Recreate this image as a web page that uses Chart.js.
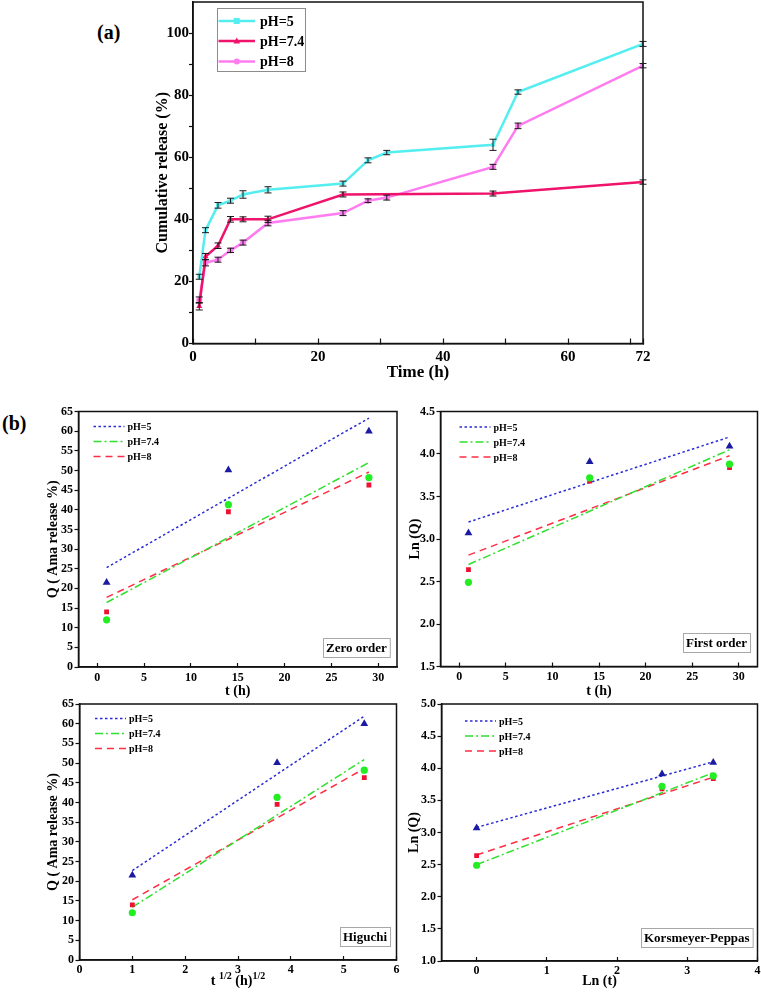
<!DOCTYPE html>
<html>
<head>
<meta charset="utf-8">
<script src="https://cdn.jsdelivr.net/npm/chart.js@4.4.1/dist/chart.umd.min.js"></script>
<style>
html, body { margin: 0; padding: 0; background: #fff; }
#fig { position: relative; width: 761px; height: 992px; overflow: hidden; background: #fff; }
#fig canvas { position: absolute; }
.tag { position: absolute; font-family: 'Liberation Serif', 'Times New Roman', serif; font-weight: bold; font-size: 20px; line-height: 20px; color: #000; }
</style>
</head>
<body>
<div id="fig">
  <div class="tag" style="left:97px;top:22px">(a)</div>
  <div class="tag" style="left:2px;top:413px">(b)</div>
  <canvas id="release"></canvas>
  <canvas id="zeroOrder"></canvas>
  <canvas id="firstOrder"></canvas>
  <canvas id="higuchi"></canvas>
  <canvas id="korsmeyer"></canvas>
</div>
<script>
// (a) cumulative release vs time
const timeH = [1, 2, 4, 6, 8, 12, 24, 28, 31, 48, 52, 72];
const releasePH5 = [21.5, 36.5, 44.5, 46, 48, 49.5, 51.5, 59, 61.5, 64, 81, 96.5];
const errPH5 = [0.8, 0.8, 0.9, 0.8, 1.2, 1.0, 0.8, 0.8, 0.7, 1.8, 0.7, 0.8];
const timePH74 = [1, 2, 4, 6, 8, 12, 24, 48, 72];
const releasePH74 = [12, 28, 31.5, 40, 40, 40, 48, 48.3, 52];
const errPH74 = [1.2, 1.0, 0.9, 0.9, 0.8, 1.0, 0.8, 0.8, 0.7];
const releasePH8 = [14, 26, 27, 30, 32.5, 38.8, 42, 46, 47, 56.9, 70.1, 89.5];
const errPH8 = [1.0, 1.0, 0.8, 0.7, 0.8, 0.9, 0.8, 0.6, 0.8, 0.8, 0.9, 0.7];
const xTicksA = [0, 10, 20, 30, 40, 50, 60, 70, 72];
const xLabelsA = [0, 20, 40, 60, 72];
const yTicksA = [0, 10, 20, 30, 40, 50, 60, 70, 80, 90, 100];
const yLabelsA = [0, 20, 40, 60, 80, 100];

// (b) kinetic model fits
const fitTimeH = [1, 14, 29];
const sqrtTimeH = [1, 3.74, 5.39];
const lnTimeH = [0, 2.64, 3.37];
const qPH5 = [21.5, 50.1, 60.0];
const qPH74 = [12.0, 41.3, 48.2];
const qPH8 = [14.0, 39.5, 46.3];
const lnQPH5 = [3.07, 3.91, 4.09];
const lnQPH74 = [2.49, 3.72, 3.88];
const lnQPH8 = [2.64, 3.68, 3.84];

const zeroFitX = [1, 29];
const zeroFitPH5 = [25.3, 63.3];
const zeroFitPH74 = [16.4, 52.0];
const zeroFitPH8 = [17.7, 49.6];
const firstFitPH5 = [3.20, 4.20];
const firstFitPH74 = [2.70, 4.05];
const firstFitPH8 = [2.81, 3.98];
const higuchiFitX = [1, 5.39];
const higuchiFitPH5 = [22.7, 61.9];
const higuchiFitPH74 = [13.4, 50.9];
const higuchiFitPH8 = [15.3, 48.6];
const kpFitX = [0, 3.37];
const kpFitPH5 = [3.08, 4.10];
const kpFitPH74 = [2.50, 3.93];
const kpFitPH8 = [2.65, 3.86];

const tTicks = [0, 5, 10, 15, 20, 25, 30];
const qTicks = [0, 5, 10, 15, 20, 25, 30, 35, 40, 45, 50, 55, 60, 65];
const lnQTicksFirst = [1.5, 2.0, 2.5, 3.0, 3.5, 4.0, 4.5];
const sqrtTTicks = [0, 1, 2, 3, 4, 5, 6];
const lnTTicks = [0, 1, 2, 3, 4];
const lnQTicksKP = [1.0, 1.5, 2.0, 2.5, 3.0, 3.5, 4.0, 4.5, 5.0];

const serif = "'Liberation Serif', 'Times New Roman', serif";
const bold = size => ({ family: serif, size: size, weight: 'bold' });
const pts = (xs, ys) => xs.map((x, i) => ({ x: x, y: ys[i] }));

function drawMark(ctx, style, x, y, r, color) {
    ctx.save();
    ctx.fillStyle = color;
    ctx.beginPath();
    if (style === 'rect') {
        ctx.rect(x - r, y - r, 2 * r, 2 * r);
    } else if (style === 'triangle') {
        ctx.moveTo(x, y - r * 1.2);
        ctx.lineTo(x + r * 1.1, y + r * 0.8);
        ctx.lineTo(x - r * 1.1, y + r * 0.8);
        ctx.closePath();
    } else {
        ctx.arc(x, y, r, 0, Math.PI * 2);
    }
    ctx.fill();
    ctx.restore();
}

// box around the plot area
const frameBox = {
    id: 'frameBox',
    afterDatasetsDraw(chart) {
        const { ctx, chartArea: a } = chart;
        ctx.save();
        ctx.strokeStyle = '#111';
        ctx.lineWidth = 1.5;
        ctx.strokeRect(a.left, a.top, a.right - a.left, a.bottom - a.top);
        ctx.restore();
    }
};

const errorBars = {
    id: 'errorBars',
    afterDatasetsDraw(chart) {
        const { ctx, scales: { x, y } } = chart;
        ctx.save();
        ctx.strokeStyle = '#1a1a1a';
        ctx.lineWidth = 1;
        chart.data.datasets.forEach(ds => {
            if (!ds.errors) return;
            ds.data.forEach((p, i) => {
                const e = ds.errors[i];
                const px = x.getPixelForValue(p.x);
                const lo = y.getPixelForValue(p.y - e), hi = y.getPixelForValue(p.y + e);
                ctx.beginPath();
                ctx.moveTo(px, lo); ctx.lineTo(px, hi);
                ctx.moveTo(px - 3.5, lo); ctx.lineTo(px + 3.5, lo);
                ctx.moveTo(px - 3.5, hi); ctx.lineTo(px + 3.5, hi);
                ctx.stroke();
            });
        });
        ctx.restore();
    }
};

// legend of panel (a): framed, line with marker
const boxKey = {
    id: 'boxKey',
    afterDraw(chart, args, o) {
        if (!o.rows) return;
        const { ctx, chartArea: a } = chart;
        const x0 = a.left + o.dx, y0 = a.top + o.dy;
        ctx.save();
        ctx.strokeStyle = '#8c8c8c';
        ctx.lineWidth = 1;
        ctx.strokeRect(x0 + 0.5, y0 + 0.5, o.w, o.h);
        ctx.font = 'bold ' + o.size + 'px ' + serif;
        ctx.textBaseline = 'middle';
        chart.data.datasets.forEach((d, i) => {
            const y = y0 + o.rows[i];
            ctx.strokeStyle = d.borderColor;
            ctx.lineWidth = d.borderWidth;
            ctx.beginPath();
            ctx.moveTo(x0 + o.line[0], y);
            ctx.lineTo(x0 + o.line[1], y);
            ctx.stroke();
            drawMark(ctx, d.pointStyle, x0 + (o.line[0] + o.line[1]) / 2, y, o.mark, d.borderColor);
            ctx.fillStyle = '#000';
            ctx.fillText(d.label, x0 + o.textX, y + 1);
        });
        ctx.restore();
    }
};

// legend of panel (b): dashed line samples
const lineKey = {
    id: 'lineKey',
    afterDraw(chart, args, o) {
        if (!o.rowH) return;
        const { ctx, chartArea: a } = chart;
        ctx.save();
        ctx.font = 'bold ' + o.size + 'px ' + serif;
        ctx.textBaseline = 'middle';
        chart.data.datasets.filter(d => d.showLine).forEach((d, i) => {
            const x = a.left + o.dx, y = a.top + o.dy + i * o.rowH;
            ctx.setLineDash(d.borderDash || []);
            ctx.strokeStyle = d.borderColor;
            ctx.lineWidth = d.borderWidth;
            ctx.beginPath();
            ctx.moveTo(x, y);
            ctx.lineTo(x + o.len, y);
            ctx.stroke();
            ctx.setLineDash([]);
            ctx.fillStyle = '#000';
            ctx.fillText(d.label, x + o.len + o.gap, y + 1);
        });
        ctx.restore();
    }
};

const cornerTag = {
    id: 'cornerTag',
    afterDraw(chart, args, o) {
        if (!o.text) return;
        const { ctx, chartArea: a } = chart;
        ctx.save();
        ctx.font = 'bold ' + o.size + 'px ' + serif;
        const w = ctx.measureText(o.text).width + 6, h = 19;
        const x = Math.round(a.right - o.right - w), y = Math.round(a.bottom - o.bottom - h);
        ctx.fillStyle = '#fff';
        ctx.fillRect(x, y, w, h);
        ctx.strokeStyle = '#a8a8a8';
        ctx.lineWidth = 1;
        ctx.strokeRect(x + 0.5, y + 0.5, w, h);
        ctx.fillStyle = '#000';
        ctx.textBaseline = 'middle';
        ctx.fillText(o.text, x + 3, y + h / 2 + 1);
        ctx.restore();
    }
};

// x title with superscripts (Higuchi)
const supTitle = {
    id: 'supTitle',
    afterDraw(chart, args, o) {
        if (!o.parts) return;
        const { ctx, chartArea: a } = chart;
        ctx.save();
        ctx.fillStyle = '#000';
        ctx.textBaseline = 'alphabetic';
        const widths = o.parts.map(p => {
            ctx.font = 'bold ' + (p.sup ? o.supSize : o.size) + 'px ' + serif;
            return ctx.measureText(p.text).width;
        });
        let x = (a.left + a.right) / 2 - widths.reduce((s, w) => s + w, 0) / 2;
        o.parts.forEach((p, i) => {
            ctx.font = 'bold ' + (p.sup ? o.supSize : o.size) + 'px ' + serif;
            ctx.fillText(p.text, x, a.bottom + o.dy - (p.sup ? o.raise : 0));
            x += widths[i];
        });
        ctx.restore();
    }
};

function makeChart(id, s, datasets, pluginOpts) {
    const el = document.getElementById(id);
    const [cx, cy, cw, ch] = s.canvas;
    el.width = cw; el.height = ch;
    el.style.left = cx + 'px'; el.style.top = cy + 'px';
    el.style.width = cw + 'px'; el.style.height = ch + 'px';
    const a = s.area;
    const yLeft = s.yTitleX - s.yTitleSize * 0.6;
    const xBottom = s.xTitleY + s.xTitleSize * 0.6;
    const xPad = s.xLabelY - a.b + s.tickIn - s.tickSize * 0.6;
    const yPad = a.l - s.tickOut - s.yLabelRight;
    return new Chart(el, {
        type: 'scatter',
        data: { datasets: datasets },
        plugins: [frameBox, errorBars, boxKey, lineKey, cornerTag, supTitle],
        options: {
            responsive: false,
            animation: false,
            events: [],
            layout: { padding: { left: yLeft - cx, right: cx + cw - a.r, top: a.t - cy, bottom: cy + ch - xBottom } },
            plugins: Object.assign({ legend: { display: false }, tooltip: { enabled: false } }, pluginOpts),
            scales: {
                x: {
                    type: 'linear', min: s.xMin, max: s.xMax,
                    afterBuildTicks: sc => { sc.ticks = s.xTicks.map(v => ({ value: v })); },
                    afterFit: sc => { sc.height = xBottom - a.b; },
                    ticks: {
                        autoSkip: false, maxRotation: 0, color: '#000', font: bold(s.tickSize), padding: xPad,
                        callback: v => s.xLabels.includes(v) ? s.xFmt(v) : ''
                    },
                    grid: { drawOnChartArea: false, tickLength: -s.tickIn, tickColor: '#111', tickWidth: 1.2 },
                    border: { display: true, color: '#111', width: 1.5 },
                    title: { display: !!s.xTitle, text: s.xTitle, color: '#000', font: bold(s.xTitleSize), padding: 0 }
                },
                y: {
                    type: 'linear', min: s.yMin, max: s.yMax,
                    afterBuildTicks: sc => { sc.ticks = s.yTicks.map(v => ({ value: v })); },
                    afterFit: sc => { sc.width = a.l - yLeft; },
                    ticks: {
                        autoSkip: false, color: '#000', font: bold(s.tickSize), padding: yPad,
                        callback: v => s.yLabels.includes(v) ? s.yFmt(v) : ''
                    },
                    grid: { drawOnChartArea: false, tickLength: s.tickOut, tickColor: '#111', tickWidth: 1.2 },
                    border: { display: true, color: '#111', width: 1.5 },
                    title: { display: true, text: s.yTitle, color: '#000', font: bold(s.yTitleSize), padding: 0 }
                }
            }
        }
    });
}

const int = v => String(v);
const one = v => v.toFixed(1);

// ---------- panel (a)
const curve = (label, xs, ys, errs, color, style, r) => ({
    label: label, data: pts(xs, ys), errors: errs, showLine: true,
    borderColor: color, backgroundColor: color, borderWidth: 2.5,
    pointStyle: style, pointRadius: r, pointBorderWidth: 0
});

makeChart('release', {
    canvas: [0, -20, 780, 420],
    area: { l: 193, t: 2, r: 643, b: 343.5 },
    xMin: 0, xMax: 72, yMin: 0, yMax: 110,
    xTicks: xTicksA, xLabels: xLabelsA, yTicks: yTicksA, yLabels: yLabelsA,
    xFmt: int, yFmt: int,
    tickSize: 15, tickIn: 5, tickOut: 4, xLabelY: 357, yLabelRight: 189,
    xTitle: 'Time (h)', xTitleSize: 17, xTitleY: 373,
    yTitle: 'Cumulative release (%)', yTitleSize: 16, yTitleX: 163
}, [
    curve('pH=5', timeH, releasePH5, errPH5, '#55eef0', 'rect', 2.8),
    curve('pH=7.4', timePH74, releasePH74, errPH74, '#f0136c', 'triangle', 3.5),
    curve('pH=8', timeH, releasePH8, errPH8, '#ff7cf0', 'circle', 3)
], {
    boxKey: { dx: 24, dy: 6, w: 88, h: 63, rows: [13, 33, 53.5], line: [1.5, 38], textX: 43, mark: 3, size: 14 }
});

// ---------- panel (b)
const fitStyle = {
    ph5: { color: '#2b2bd4', dash: [2.5, 2.5], mark: 'triangle', markColor: '#1a1aa2', r: 4.5 },
    ph74: { color: '#2fe02f', dash: [8, 3, 2, 3], mark: 'circle', markColor: '#22ee22', r: 3.6 },
    ph8: { color: '#ff2d45', dash: [7, 5], mark: 'rect', markColor: '#ee1133', r: 3.4 }
};
const fitLine = (label, xs, ys, st) => ({
    label: label, data: pts(xs, ys), showLine: true, order: 2,
    borderColor: st.color, borderDash: st.dash, borderWidth: 1.5, pointRadius: 0
});
const dots = (xs, ys, st) => ({
    label: '', data: pts(xs, ys), order: 1,
    pointStyle: st.mark, pointRadius: st.r, pointBorderWidth: 0, backgroundColor: st.markColor
});
const modelSets = (fx, f5, f74, f8, xs, y5, y74, y8) => [
    fitLine('pH=5', fx, f5, fitStyle.ph5),
    fitLine('pH=7.4', fx, f74, fitStyle.ph74),
    fitLine('pH=8', fx, f8, fitStyle.ph8),
    dots(xs, y5, fitStyle.ph5),
    dots(xs, y74, fitStyle.ph74),
    dots(xs, y8, fitStyle.ph8)
];

const small = { tickSize: 12, tickIn: 4, tickOut: 4, xTitleSize: 14, yTitleSize: 14 };

makeChart('zeroOrder', Object.assign({
    canvas: [0, 392, 420, 310],
    area: { l: 78.5, t: 411.5, r: 397, b: 667 },
    xMin: -2, xMax: 32, yMin: 0, yMax: 65,
    xTicks: tTicks, xLabels: tTicks, yTicks: qTicks, yLabels: qTicks, xFmt: int, yFmt: int,
    xLabelY: 678, yLabelRight: 73,
    xTitle: 't (h)', xTitleY: 691, yTitle: 'Q ( Ama release %)', yTitleX: 53
}, small), modelSets(zeroFitX, zeroFitPH5, zeroFitPH74, zeroFitPH8, fitTimeH, qPH5, qPH74, qPH8), {
    lineKey: { dx: 15, dy: 15, rowH: 15, len: 31, gap: 3, size: 10 },
    cornerTag: { text: 'Zero order', size: 13, right: 7, bottom: 10.5 }
});

makeChart('firstOrder', Object.assign({
    canvas: [400, 392, 380, 310],
    area: { l: 440.5, t: 411.5, r: 757.5, b: 666.5 },
    xMin: -2, xMax: 32, yMin: 1.5, yMax: 4.5,
    xTicks: tTicks, xLabels: tTicks, yTicks: lnQTicksFirst, yLabels: lnQTicksFirst, xFmt: int, yFmt: one,
    xLabelY: 677, yLabelRight: 435,
    xTitle: 't (h)', xTitleY: 691, yTitle: 'Ln (Q)', yTitleX: 415
}, small), modelSets(zeroFitX, firstFitPH5, firstFitPH74, firstFitPH8, fitTimeH, lnQPH5, lnQPH74, lnQPH8), {
    lineKey: { dx: 19, dy: 15.5, rowH: 15, len: 31, gap: 3, size: 10 },
    cornerTag: { text: 'First order', size: 13, right: 7, bottom: 14.5 }
});

makeChart('higuchi', Object.assign({
    canvas: [0, 690, 420, 310],
    area: { l: 79.5, t: 704, r: 396.5, b: 960 },
    xMin: 0, xMax: 6, yMin: 0, yMax: 65,
    xTicks: sqrtTTicks, xLabels: sqrtTTicks, yTicks: qTicks, yLabels: qTicks, xFmt: int, yFmt: int,
    xLabelY: 970, yLabelRight: 74,
    xTitle: '', xTitleY: 980, yTitle: 'Q ( Ama release %)', yTitleX: 53
}, small), modelSets(higuchiFitX, higuchiFitPH5, higuchiFitPH74, higuchiFitPH8, sqrtTimeH, qPH5, qPH74, qPH8), {
    lineKey: { dx: 15.5, dy: 14.5, rowH: 15, len: 31, gap: 3, size: 10 },
    cornerTag: { text: 'Higuchi', size: 13, right: 6.5, bottom: 14 },
    supTitle: { parts: [{ text: 't ' }, { text: '1/2', sup: true }, { text: ' (h)' }, { text: '1/2', sup: true }], size: 14, supSize: 10, raise: 6, dy: 25 }
});

makeChart('korsmeyer', Object.assign({
    canvas: [400, 690, 380, 310],
    area: { l: 441.5, t: 704, r: 757.5, b: 961 },
    xMin: -0.5, xMax: 4, yMin: 1.0, yMax: 5.0,
    xTicks: lnTTicks, xLabels: lnTTicks, yTicks: lnQTicksKP, yLabels: lnQTicksKP, xFmt: int, yFmt: one,
    xLabelY: 970.5, yLabelRight: 436,
    xTitle: 'Ln (t)', xTitleY: 981, yTitle: 'Ln (Q)', yTitleX: 414
}, small), modelSets(kpFitX, kpFitPH5, kpFitPH74, kpFitPH8, lnTimeH, lnQPH5, lnQPH74, lnQPH8), {
    lineKey: { dx: 23.5, dy: 17, rowH: 15, len: 31, gap: 3, size: 10 },
    cornerTag: { text: 'Korsmeyer-Peppas', size: 13, right: 5, bottom: 14 }
});
</script>
</body>
</html>
